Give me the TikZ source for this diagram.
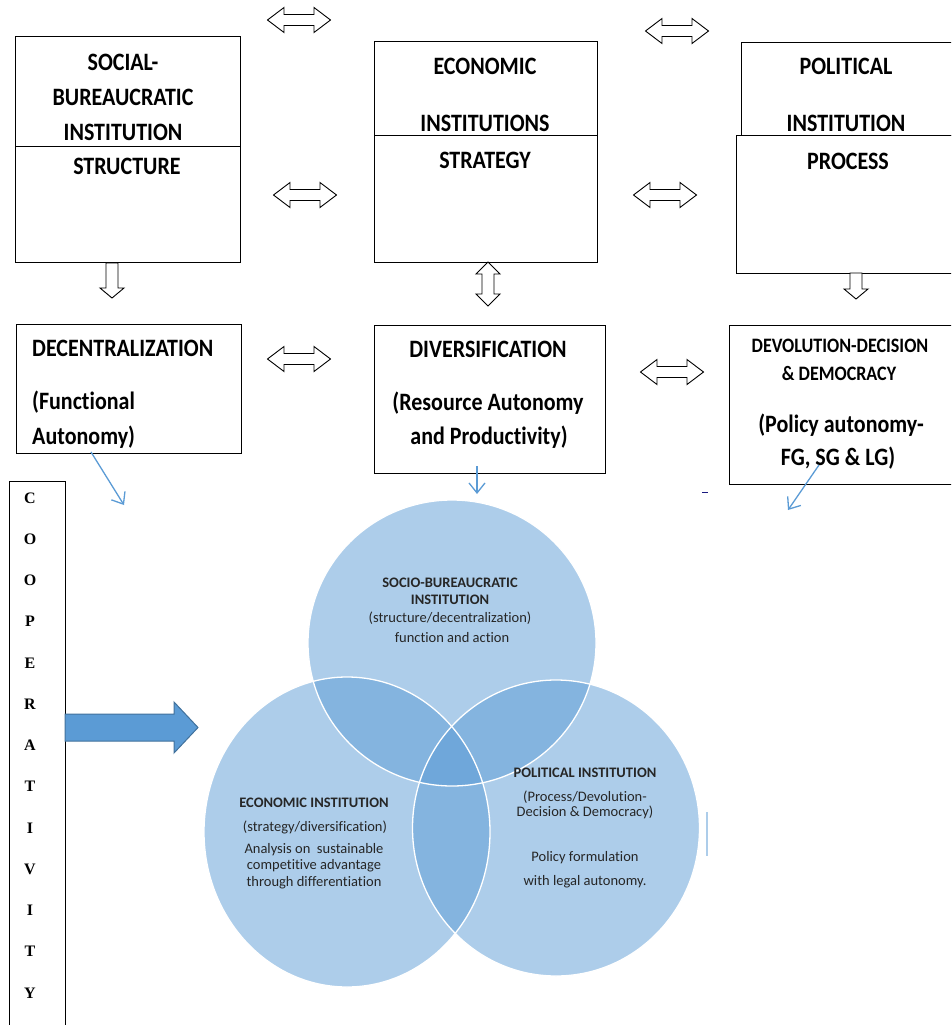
\documentclass[tikz,border=0pt]{standalone}
\usepackage{fontspec}
\setmainfont{Carlito}[RawFeature={-liga;-clig;-calt;-dlig}]
\newfontfamily\hdfont[FakeStretch=0.88,RawFeature={-liga;-clig;-calt;-dlig}]{Carlito}
\newfontfamily\tnr{Liberation Serif}
\usetikzlibrary{arrows.meta,shapes.geometric}
\definecolor{vblue}{HTML}{5B9BD5}
\definecolor{vdark}{HTML}{41719C}
\definecolor{vlight}{HTML}{ADCDEA}
\definecolor{navyd}{HTML}{1A1A80}
\newcommand\mylrarrow[2]{%
  \draw[hollow] (#1-31.5,#2) -- (#1-15,#2-12.5) -- (#1-15,#2-5.5) -- (#1+15,#2-5.5) -- (#1+15,#2-12.5) -- (#1+31.5,#2)
   -- (#1+15,#2+12.5) -- (#1+15,#2+5.5) -- (#1-15,#2+5.5) -- (#1-15,#2+12.5) -- cycle;}
\newcommand\mydnarrow[3]{%
  \draw[hollow] (#1-6,#2) -- (#1+6,#2) -- (#1+6,#3-10) -- (#1+12,#3-10) -- (#1,#3) -- (#1-12,#3-10) -- (#1-6,#3-10) -- cycle;}
\newcommand\myudarrow[3]{%
  \draw[hollow] (#1,#2) -- (#1+12,#2+12) -- (#1+6,#2+12) -- (#1+6,#3-12) -- (#1+12,#3-12) -- (#1,#3)
   -- (#1-12,#3-12) -- (#1-6,#3-12) -- (#1-6,#2+12) -- (#1-12,#2+12) -- cycle;}
\begin{document}
\begin{tikzpicture}[x=1pt,y=-1pt,
  box/.style={draw=black, line width=1.1pt, anchor=north west, inner sep=0pt},
  hd/.style={font=\hdfont\bfseries\fontsize{25}{27}\selectfont, inner sep=0pt},
  hds/.style={font=\hdfont\bfseries\fontsize{20.5}{22}\selectfont, inner sep=0pt},
  hollow/.style={draw=black, line width=0.9pt, fill=white},
  bluearr/.style={draw=vblue, line width=1.3pt, -{Straight Barb[length=10pt,width=16pt]}},
  coopl/.style={font=\tnr\bfseries\fontsize{16}{18}\selectfont, inner sep=0pt},
  venn/.style={ellipse, inner sep=0pt, fill=vblue, fill opacity=0.5},
  vb/.style={font=\bfseries\fontsize{14.5}{16}\selectfont, text=black!85, inner sep=0pt},
  vt/.style={font=\fontsize{14.5}{16}\selectfont, text=black!85, inner sep=0pt}]
\useasboundingbox (0,0) rectangle (951,1025);
\clip (0,0) rectangle (951,1025);

% top boxes
\node[box, minimum width=225, minimum height=110] (sbTop) at (15,36) {};
\node[box, minimum width=225, minimum height=116] (sbBot) at (15,146) {};
\node[box, minimum width=223, minimum height=94] (ecTop) at (374,41) {};
\node[box, minimum width=223, minimum height=127] (ecBot) at (374,135) {};
\node[box, minimum width=230, minimum height=93] (poTop) at (741,42) {};
\node[box, minimum width=230, minimum height=138] (poBot) at (736,135) {};

\node[hd] (t1) at (123,62) {SOCIAL-};
\node[hd] (t2) at (123,97) {BUREAUCRATIC};
\node[hd] (t3) at (123,132) {INSTITUTION};
\node[hd] (t4) at (127,166) {STRUCTURE};
\node[hd] (t5) at (485,66) {ECONOMIC};
\node[hd] (t6) at (485,123) {INSTITUTIONS};
\node[hd] (t7) at (485,160) {STRATEGY};
\node[hd] (t8) at (846,66) {POLITICAL};
\node[hd] (t9) at (846,123) {INSTITUTION};
\node[hd] (t10) at (848,161) {PROCESS};

% second row boxes
\node[box, minimum width=225, minimum height=129] (dec) at (16,324) {};
\node[box, minimum width=231, minimum height=148] (div) at (374,325) {};
\node[box, minimum width=235, minimum height=159] (dev) at (729,325) {};

\node[hd, anchor=west] (u1) at (32,348) {DECENTRALIZATION};
\node[hd, anchor=west] (u2) at (32,402) {(Functional};
\node[hd, anchor=west] (u3) at (32,437) {Autonomy)};
\node[hd] (u4) at (488,349) {DIVERSIFICATION};
\node[hd] (u5) at (488,403) {(Resource Autonomy};
\node[hd] (u6) at (489,437) {and Productivity)};
\node[hds] (u7) at (840,346) {DEVOLUTION-DECISION};
\node[hds] (u8) at (839,373) {\& DEMOCRACY};
\node[hd] (u9) at (841,425) {(Policy autonomy-};
\node[hd] (u10) at (838,458) {FG, SG \& LG)};

% hollow block arrows
\mylrarrow{299}{20}
\mylrarrow{677}{31}
\mylrarrow{305}{195}
\mylrarrow{665}{195}
\mylrarrow{299}{359}
\mylrarrow{672}{372}
\mydnarrow{112}{263}{298}
\myudarrow{488}{262}{306}
\mydnarrow{856}{273}{299}

% Venn circles
\node[venn, minimum width=288, minimum height=286] (c1) at (452,643) {};
\node[venn, minimum width=286, minimum height=310] (c2) at (347,832) {};
\node[venn, minimum width=287, minimum height=296] (c3) at (556,828) {};
\draw[white, line width=1.3pt] (452,643) ellipse [x radius=144, y radius=143];
\draw[white, line width=1.3pt] (347,832) ellipse [x radius=143, y radius=155];
\draw[white, line width=1.3pt] (556,828) ellipse [x radius=143.5, y radius=148];
\draw[vlight, line width=2pt] (707,812) -- (707,856);

\node[vb] (v1) at (450,583) {SOCIO-BUREAUCRATIC};
\node[vb] (v2) at (450,600) {INSTITUTION};
\node[vt] (v3) at (450,618) {(structure/decentralization)};
\node[vt] (v4) at (452,638) {function and action};
\node[vb] (v5) at (314,803) {ECONOMIC INSTITUTION};
\node[vt] (v6) at (315,827) {(strategy/diversification)};
\node[vt] (v7) at (314,850) {Analysis on\ \ sustainable};
\node[vt] (v8) at (314,866) {competitive advantage};
\node[vt] (v9) at (314,883) {through differentiation};
\node[vb] (v10) at (585,773) {POLITICAL INSTITUTION};
\node[vt] (v11) at (585,797) {(Process/Devolution-};
\node[vt] (v12) at (585,812) {Decision \& Democracy)};
\node[vt] (v13) at (585,858) {Policy formulation};
\node[vt] (v14) at (585,882) {with legal autonomy.};

% thin blue arrows
\coordinate (a1s) at (91,452);
\coordinate (a1e) at (124,505);
\coordinate (a2s) at (477,466);
\coordinate (a2e) at (477,494);
\coordinate (a3s) at (819,465);
\coordinate (a3e) at (788,510);
\draw[bluearr] (a1s) -- (a1e);
\draw[bluearr] (a2s) -- (a2e);
\draw[bluearr] (a3s) -- (a3e);
\draw[navyd, line width=1pt] (702,492) -- (708,492);

% cooperativity
\node[box, minimum width=56, minimum height=560] (coop) at (9,481) {};
\foreach \l [count=\i from 0] in {C,O,O,P,E,R,A,T,I,V,I,T,Y}
  \node[coopl] (cl\i) at (30,498+41.25*\i) {\l};
\draw[fill=vblue, draw=vdark, line width=1pt] (65,714) -- (174,714) -- (174,702) -- (198,727.5) -- (174,753) -- (174,741) -- (65,741) -- cycle;
\end{tikzpicture}
\end{document}
